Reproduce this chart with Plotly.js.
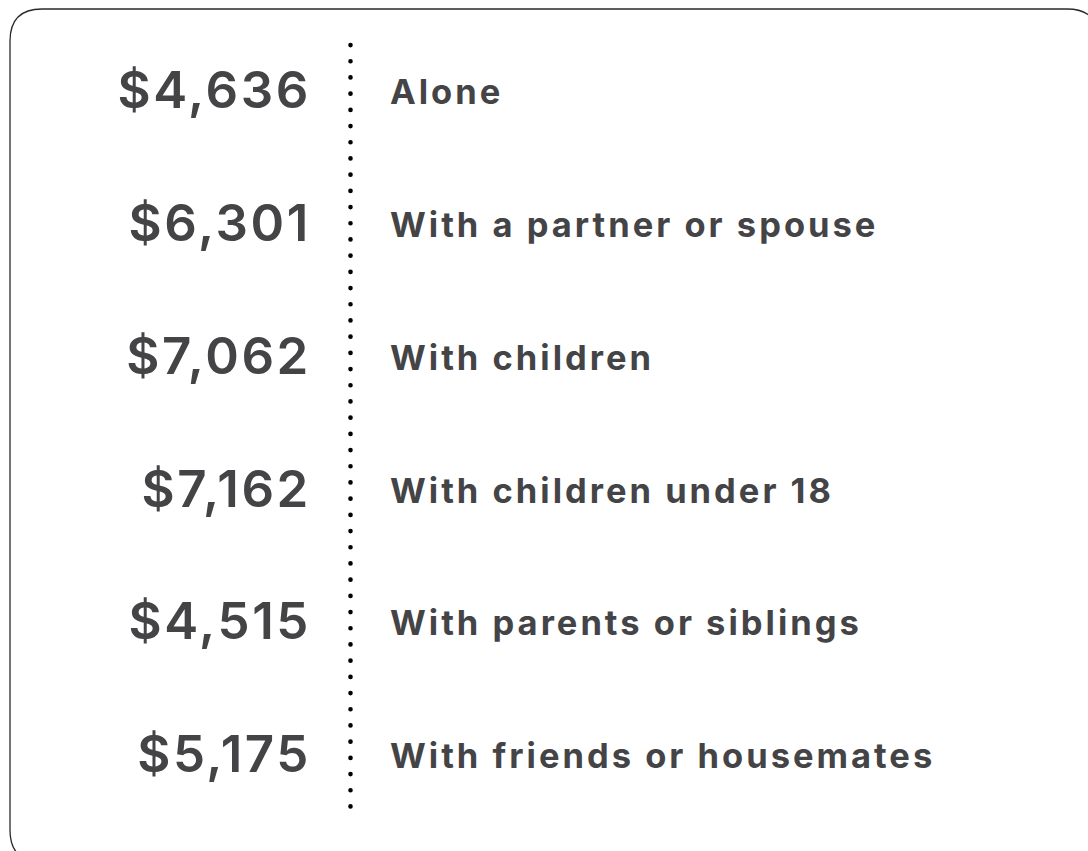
<!DOCTYPE html>
<html>
<head>
<meta charset="utf-8">
<script src="https://cdn.plot.ly/plotly-3.0.1.min.js"></script>
<style>
html, body { margin: 0; padding: 0; background: #fff; }
#chart { width: 1088px; height: 851px; }
.shapelayer path { stroke-linecap: round; }
.scatterlayer .trace:nth-child(1) text { letter-spacing: 2.6px; }
.scatterlayer .trace:nth-child(2) text { letter-spacing: 3px; }
</style>
</head>
<body>
<div id="chart"></div>
<script>
// Data
const categories = [
  "Alone",
  "With a partner or spouse",
  "With children",
  "With children under 18",
  "With parents or siblings",
  "With friends or housemates"
];
const amounts = [4636, 6301, 7062, 7162, 4515, 5175];

// Layout helpers (pixel geometry)
const W = 1088, H = 851;
const px = v => v / W;
const py = v => 1 - v / H;

const textColor = "#444447";
const valueText = amounts.map(v => "$" + v.toLocaleString("en-US"));

const traces = [
  {
    type: "scatter",
    mode: "text",
    x: categories.map(() => 311),
    y: categories,
    text: valueText,
    textposition: "middle left",
    textfont: { family: "Inter, 'Open Sans', sans-serif", size: 51, color: textColor, weight: 600 },
    hoverinfo: "skip",
    showlegend: false
  },
  {
    type: "scatter",
    mode: "text",
    x: categories.map(() => 390),
    y: categories,
    text: categories,
    textposition: "middle right",
    textfont: { family: "Inter, 'Open Sans', sans-serif", size: 34.5, color: textColor, weight: 700 },
    hoverinfo: "skip",
    showlegend: false
  }
];

// Rounded border path (paper coords)
const L = 10, T = 9, R = 1099, B = 862, r = 32;
const borderPath =
  `M ${px(L + r)} ${py(T)} L ${px(R - r)} ${py(T)} Q ${px(R)} ${py(T)} ${px(R)} ${py(T + r)} ` +
  `L ${px(R)} ${py(B - r)} Q ${px(R)} ${py(B)} ${px(R - r)} ${py(B)} ` +
  `L ${px(L + r)} ${py(B)} Q ${px(L)} ${py(B)} ${px(L)} ${py(B - r)} ` +
  `L ${px(L)} ${py(T + r)} Q ${px(L)} ${py(T)} ${px(L + r)} ${py(T)} Z`;

const layout = {
  width: W,
  height: H,
  margin: { l: 0, r: 0, t: 0, b: 0, pad: 0 },
  paper_bgcolor: "#ffffff",
  plot_bgcolor: "#ffffff",
  xaxis: { range: [0, W], visible: false, fixedrange: true },
  yaxis: {
    type: "category",
    categoryorder: "array",
    categoryarray: categories,
    range: [5.689, -0.719],
    visible: false,
    fixedrange: true
  },
  shapes: [
    {
      type: "path",
      xref: "paper", yref: "paper",
      path: borderPath,
      line: { color: "#2a2a2a", width: 1.3 },
      fillcolor: "rgba(0,0,0,0)"
    },
    {
      type: "line",
      xref: "paper", yref: "paper",
      x0: px(350.5), x1: px(350.5),
      y0: py(45), y1: py(810),
      line: { color: "#000000", width: 4.6, dash: "0.1px,16.1px" }
    }
  ],
  showlegend: false
};

Plotly.newPlot("chart", traces, layout, { staticPlot: true, displayModeBar: false });
</script>
</body>
</html>
